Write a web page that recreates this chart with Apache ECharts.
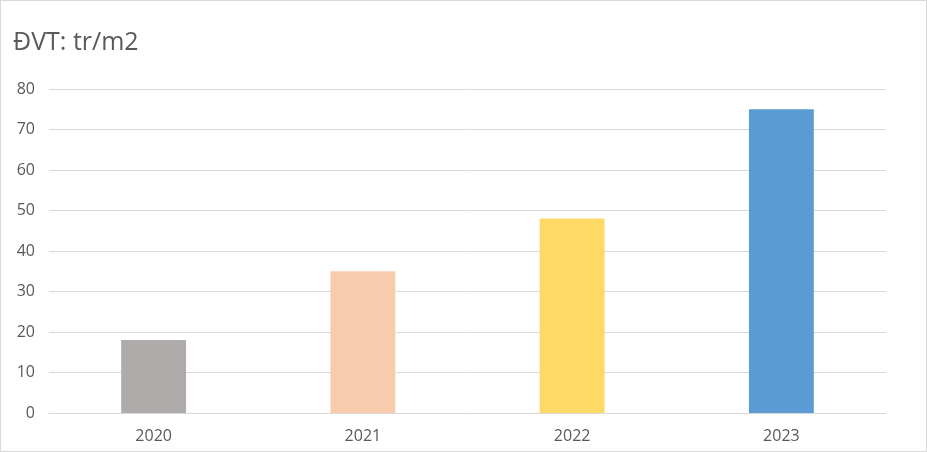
<!DOCTYPE html>
<html>
<head>
<meta charset="utf-8">
<script src="https://cdn.jsdelivr.net/npm/echarts@6/dist/echarts.min.js"></script>
<style>
html,body{margin:0;padding:0;background:#fff;}
#c{width:925px;height:450px;border:1px solid #d9d9d9;}
</style>
</head>
<body>
<div id="c"></div>
<script>
const categories = ['2020', '2021', '2022', '2023'];
const values = [18, 35, 48, 75];
const barColors = ['#AFABAB', '#F8CBAD', '#FFD966', '#5B9BD5'];
const titleText = 'ĐVT: tr/m2';

const chart = echarts.init(document.getElementById('c'));
chart.setOption({
  animation: false,
  title: {
    text: titleText,
    left: 7, top: 24,
    textStyle: {fontFamily: 'Open Sans', fontSize: 25, fontWeight: 'normal', color: '#595959'}
  },
  grid: {left: 48, right: 40, top: 88, bottom: 38},
  xAxis: {
    type: 'category',
    data: categories,
    axisLine: {lineStyle: {color: '#d9d9d9'}},
    axisTick: {show: false},
    axisLabel: {color: '#595959', fontFamily: 'Open Sans', fontSize: 16, margin: 15}
  },
  yAxis: {
    type: 'value',
    min: 0, max: 80, interval: 10,
    axisLine: {show: false},
    axisTick: {show: false},
    splitLine: {lineStyle: {color: '#d9d9d9'}},
    axisLabel: {color: '#595959', fontFamily: 'Open Sans', fontSize: 16, margin: 14}
  },
  series: [{
    type: 'bar',
    barWidth: '31%',
    data: values.map((v, i) => ({value: v, itemStyle: {color: barColors[i]}}))
  }]
});
</script>
</body>
</html>
